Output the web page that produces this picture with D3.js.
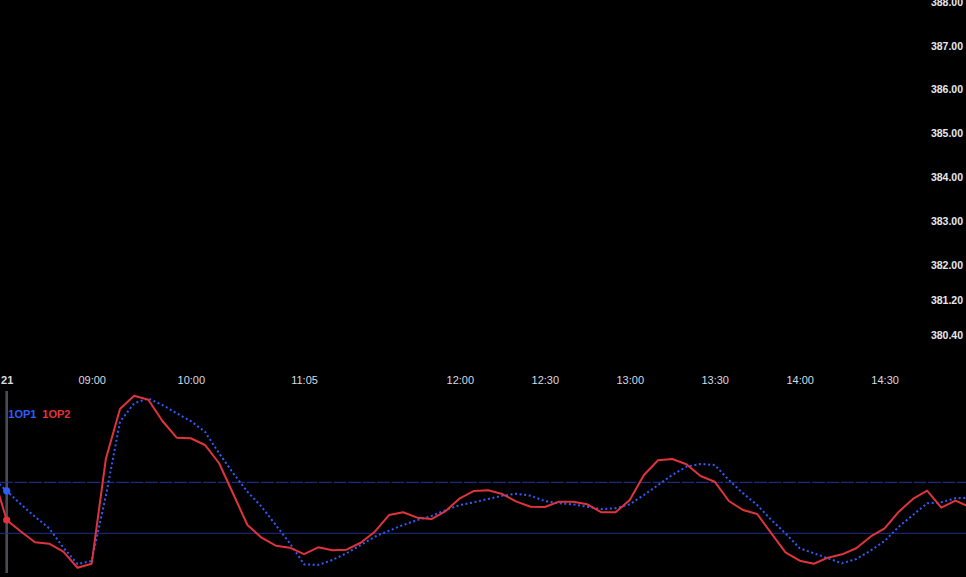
<!DOCTYPE html>
<html>
<head>
<meta charset="utf-8">
<script src="https://cdn.jsdelivr.net/npm/d3@7"></script>
<style>
  html, body { margin: 0; padding: 0; background: #000; }
  svg { display: block; }
</style>
</head>
<body>
<svg id="chart" width="966" height="577"></svg>
<script>
// ---------------- DATA ----------------
// bar indices run from -1 to 68 (index 0 = session start, marked "21")
const firstIndex = -1;
const series1Name = "1OP1";   // blue, dotted
const series2Name = "1OP2";   // red, solid
const series1 = [85.1, 69.8, 54.1, 39.5, 25.9, 3.1, -16.1, -12.6, 63.9, 151.3,
  172.9, 178.8, 170.9, 161.2, 152.1, 139.5, 114.1, 90.6, 68.9, 51.3,
  29.8, 8.2, -16.5, -17.3, -11.4, -3.5, 6.2, 16, 23.1, 29.8,
  35.6, 40.4, 47.4, 53.3, 56.5, 60.4, 64.2, 66.6, 64.2, 58,
  55.3, 54.1, 51.3, 48.6, 49.4, 54.1, 65.1, 76.8, 88.6, 98.4,
  101.5, 100.4, 82.7, 67.1, 53.3, 35.6, 20, 2.4, -3.5, -9.4,
  -15.3, -10.2, -0.5, 10.9, 27.8, 41.5, 55.3, 56.5, 61.2, 61.9];
const series2 = [90.9, 35.6, 22.1, 9.4, 7.8, -1.6, -20.5, -15.8, 107.4, 166.2,
  181.9, 177.2, 152.1, 132.5, 131.8, 123.9, 102.4, 66.2, 29.8, 14.8,
  5.4, 3.1, -4.4, 3.5, 0, 0.7, 8.9, 21.9, 41.5, 44.7,
  38.4, 36.8, 46.2, 61.2, 69.8, 70.6, 66.2, 57.2, 51.3, 50.9,
  57.2, 57.2, 54.1, 44.7, 44.7, 59.2, 88.6, 105.9, 107.4, 101.2,
  87.4, 80.7, 58, 47.4, 42.7, 20, -2.4, -12.2, -15.8, -8.7,
  -4.7, 2.4, 16, 25.9, 45.4, 60.4, 70.1, 50.1, 58.4, 50.9];
const levels = [80, 20];
const cursorIndex = 0;

const timeTickIndex = [0, 6, 13, 21, 32, 38, 44, 50, 56, 62];
const timeTickLabel = ["21", "09:00", "10:00", "11:05", "12:00", "12:30", "13:00", "13:30", "14:00", "14:30"];

const priceTicks = [388, 387, 386, 385, 384, 383, 382, 381.2, 380.4];

// ---------------- CHART ----------------
const svg = d3.select("#chart");
const W = 966, H = 577;
svg.append("rect").attr("width", W).attr("height", H).attr("fill", "#000");

const x = d3.scaleLinear().domain([0, 68]).range([6.7, 6.7 + 14.16 * 68]);
const yPrice = d3.scaleLinear().domain([380, 388]).range([352.7, 1.9]);
const yOsc = d3.scaleLinear().domain([20, 80]).range([533.3, 482.3]);

const clipId = "paneClip";
svg.append("clipPath").attr("id", clipId)
  .append("rect").attr("x", 0).attr("y", 388).attr("width", W).attr("height", H - 388);

// Price axis (top pane, right side)
const priceAxis = d3.axisRight(yPrice)
  .tickValues(priceTicks)
  .tickFormat(d3.format(".2f"))
  .tickSize(0);
const pa = svg.append("g").attr("transform", "translate(963,0)").call(priceAxis);
pa.select(".domain").remove();
pa.selectAll("text")
  .attr("x", 0)
  .attr("text-anchor", "end")
  .attr("fill", "#e6e8ee")
  .style("font-family", "'Liberation Sans', Arial, sans-serif")
  .style("font-size", "10.5px")
  .style("font-weight", "bold");

// Time axis labels
const timeAxis = d3.axisBottom(x)
  .tickValues(timeTickIndex)
  .tickFormat((d, i) => timeTickLabel[i])
  .tickSize(0);
const ta = svg.append("g").attr("transform", "translate(0,376)").call(timeAxis);
ta.select(".domain").remove();
ta.selectAll("text")
  .attr("y", 0)
  .attr("dy", "0.71em")
  .attr("fill", "#d8dbe2")
  .style("font-family", "'Liberation Sans', Arial, sans-serif")
  .style("font-size", "11px")
  .style("font-weight", (d) => d === 0 ? "bold" : "normal");

// Cursor vertical line
svg.append("rect")
  .attr("x", x(cursorIndex) - 1.3)
  .attr("y", 391)
  .attr("width", 2.6)
  .attr("height", 182)
  .attr("fill", "#4a4b54");

// Level lines
const g = svg.append("g").attr("clip-path", `url(#${clipId})`);
g.append("line")
  .attr("x1", 0).attr("x2", W)
  .attr("y1", yOsc(levels[0])).attr("y2", yOsc(levels[0]))
  .attr("stroke", "#2236a0").attr("stroke-width", 1)
  .attr("stroke-dasharray", "13,1.5");
g.append("line")
  .attr("x1", 0).attr("x2", W)
  .attr("y1", yOsc(levels[1])).attr("y2", yOsc(levels[1]))
  .attr("stroke", "#1e2f8e").attr("stroke-width", 1);

const pts1 = series1.map((v, i) => [i + firstIndex, v]);
const pts2 = series2.map((v, i) => [i + firstIndex, v]);
const line = d3.line().x(d => x(d[0])).y(d => yOsc(d[1]));

g.append("path")
  .attr("d", line(pts1))
  .attr("fill", "none")
  .attr("stroke", "#2f5cff")
  .attr("stroke-width", 2)
  .attr("stroke-dasharray", "2,2.6");

g.append("path")
  .attr("d", line(pts2))
  .attr("fill", "none")
  .attr("stroke", "#e0343d")
  .attr("stroke-width", 2)
  .attr("stroke-linejoin", "round");

// Cursor dots
const c1 = series1[cursorIndex - firstIndex];
const c2 = series2[cursorIndex - firstIndex];
svg.append("circle").attr("cx", x(cursorIndex)).attr("cy", yOsc(c1)).attr("r", 3.6).attr("fill", "#2f5cff");
svg.append("circle").attr("cx", x(cursorIndex)).attr("cy", yOsc(c2)).attr("r", 3.6).attr("fill", "#e0343d");

// Legend
const legend = svg.append("g")
  .style("font-family", "'Liberation Sans', Arial, sans-serif")
  .style("font-size", "11px")
  .style("font-weight", "bold");
legend.append("text").attr("x", 8.3).attr("y", 417.5).attr("fill", "#2f5cff").text(series1Name);
legend.append("text").attr("x", 42.3).attr("y", 417.5).attr("fill", "#e0343d").text(series2Name);
</script>
</body>
</html>
